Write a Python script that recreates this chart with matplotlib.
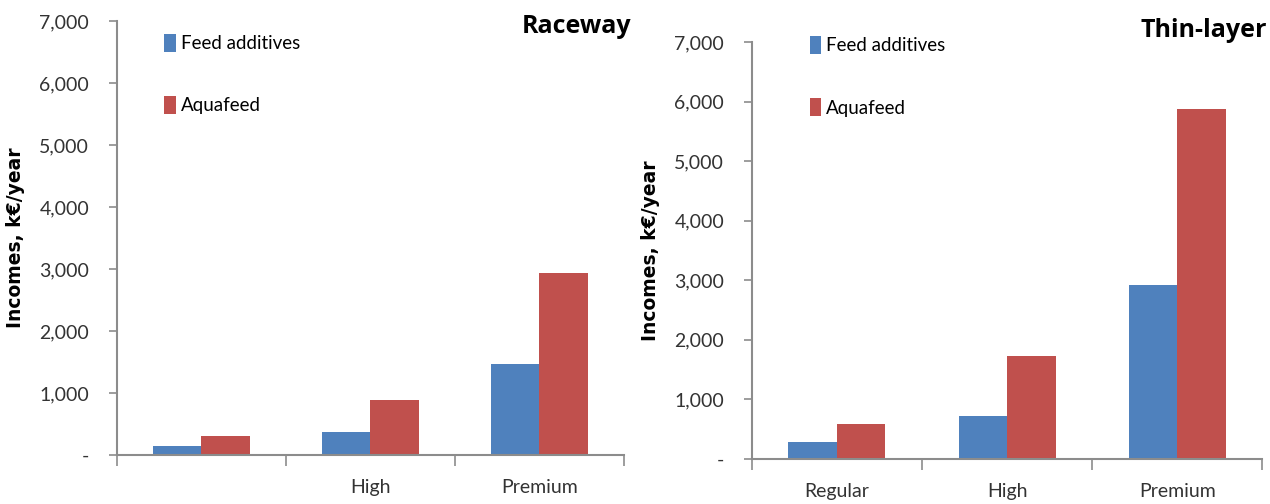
import matplotlib
matplotlib.use('Agg')
import matplotlib.pyplot as plt
import numpy as np

# incomes in k€/year per product grade
grades_raceway = ['', 'High', 'Premium']
grades_thin = ['Regular', 'High', 'Premium']
raceway_additives = [150, 370, 1470]
raceway_aquafeed = [300, 880, 2940]
thin_additives = [285, 720, 2920]
thin_aquafeed = [590, 1730, 5880]

BLUE = '#4F81BD'
RED = '#C0504D'
AXIS = '#8c8c8c'
TICKFONT = ['Lato', 'DejaVu Sans']

fig = plt.figure(figsize=(12.7, 5.04), dpi=100)


def fmt(v):
    return '-' if v == 0 else f'{v:,}'


def panel(rect, grades, add, aqua, title, title_xy, leg_xy):
    ax = fig.add_axes(rect)
    x = np.arange(len(grades)) + 0.5
    w = 0.285
    ax.bar(x - w / 2, add, w, color=BLUE, label='Feed additives')
    ax.bar(x + w / 2, aqua, w, color=RED, label='Aquafeed')
    ax.set_xlim(0, 3)
    ax.set_ylim(0, 7000)
    ax.set_yticks(range(0, 7001, 1000))
    ax.set_yticklabels([fmt(v) for v in range(0, 7001, 1000)],
                       fontsize=14, family=TICKFONT, color='#333333')
    ax.set_xticks([0, 1, 2, 3])
    ax.set_xticklabels([])
    ax.set_xticks(x, minor=True)
    ax.set_xticklabels(grades, minor=True, fontsize=14, family=TICKFONT,
                       color='#333333')
    ax.tick_params(axis='x', which='major', length=8, width=1.2, color=AXIS,
                   direction='out')
    ax.tick_params(axis='x', which='minor', length=0, pad=17)
    ax.tick_params(axis='y', length=6, width=1.2, color=AXIS, pad=14)
    for s in ('top', 'right'):
        ax.spines[s].set_visible(False)
    for s in ('left', 'bottom'):
        ax.spines[s].set_color(AXIS)
        ax.spines[s].set_linewidth(1.5)
    ax.set_ylabel('Incomes, k€/year', fontsize=13.5, fontweight='bold',
                  labelpad=10)
    ax.legend(loc='upper left', bbox_to_anchor=leg_xy, frameon=False,
              labelspacing=2.35, handlelength=0.6, handleheight=1.1,
              handletextpad=0.3, prop={'family': TICKFONT, 'size': 13.5})
    fig.text(title_xy[0], title_xy[1], title, fontsize=18, fontweight='bold',
             family=['Open Sans', 'DejaVu Sans'], ha='right', va='center')
    return ax


panel([0.0921, 0.0972, 0.3992, 0.861], grades_raceway,
      raceway_additives, raceway_aquafeed, 'Raceway', (0.497, 0.948),
      (0.06, 1.01))
panel([0.592, 0.0893, 0.402, 0.8274], grades_thin,
      thin_additives, thin_aquafeed, 'Thin-layer', (0.998, 0.94),
      (0.08, 1.055))

fig.savefig('out.png', dpi=100)
